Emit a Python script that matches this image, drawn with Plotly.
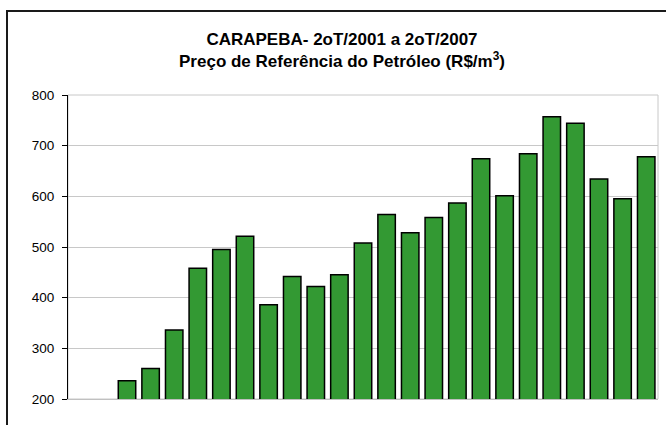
import plotly.graph_objects as go

quarters = ["2oT/2001", "3oT/2001", "4oT/2001",
            "1oT/2002", "2oT/2002", "3oT/2002", "4oT/2002",
            "1oT/2003", "2oT/2003", "3oT/2003", "4oT/2003",
            "1oT/2004", "2oT/2004", "3oT/2004", "4oT/2004",
            "1oT/2005", "2oT/2005", "3oT/2005", "4oT/2005",
            "1oT/2006", "2oT/2006", "3oT/2006", "4oT/2006",
            "1oT/2007", "2oT/2007"]
prices = [None, None, 236, 260, 336, 458, 495, 521, 386, 442, 422, 445,
          508, 564, 528, 558, 587, 674, 601, 684, 757, 744, 634, 595, 678]

y_ticks = [200, 300, 400, 500, 600, 700, 800]

W, H = 666, 425
L, R, T, B = 68, 658, 95, 399

fig = go.Figure()
fig.add_trace(go.Bar(
    x=quarters, y=prices,
    marker=dict(color="#339933", line=dict(color="#000000", width=1.5)),
    hoverinfo="x+y",
))

def px2paper_x(px):
    return (px - L) / (R - L)

def px2paper_y(py):
    return (B - py) / (B - T)

fig.update_layout(
    width=W, height=H, autosize=False,
    margin=dict(l=L, r=W - R, t=T, b=H - B, pad=0),
    paper_bgcolor="white", plot_bgcolor="white",
    showlegend=False,
    bargap=0.26,
    font=dict(family="Liberation Sans, Arial, sans-serif", color="#000000"),
    title=dict(
        text="CARAPEBA- 2oT/2001 a 2oT/2007<br>Preço de Referência do Petróleo (R$/m<sup>3</sup>)",
        x=342 / W, xanchor="center", xref="container",
        y=1 - 45 / H, yanchor="top", yref="container",
        font=dict(size=17, family="Liberation Sans, Arial, sans-serif", color="#000000", weight="bold"),
    ),
    xaxis=dict(
        type="category", categoryorder="array", categoryarray=quarters,
        showticklabels=False, ticks="", showgrid=False,
        showline=True, linecolor="#c0c0c0", linewidth=1,
        zeroline=False, fixedrange=True,
    ),
    yaxis=dict(
        range=[200, 800], tickvals=y_ticks,
        ticks="outside", ticklen=5, tickcolor="#000000", tickwidth=1,
        showline=True, linecolor="#000000", linewidth=1,
        showgrid=True, gridcolor="#c8c8c8", gridwidth=1,
        zeroline=False,
        tickfont=dict(size=13.5, family="Liberation Sans, Arial, sans-serif", color="#000000"),
        ticklabelstandoff=5,
    ),
    shapes=[
        dict(type="rect", xref="paper", yref="paper", layer="below",
             x0=0, x1=1, y0=0, y1=1,
             line=dict(color="#c8c8c8", width=1)),
        dict(type="rect", xref="paper", yref="paper", layer="above",
             x0=px2paper_x(7), x1=px2paper_x(690),
             y0=px2paper_y(440), y1=px2paper_y(11),
             line=dict(color="#1a1a1a", width=2)),
    ],
)

fig.write_html("out.html", config={"displayModeBar": False},
               post_script="document.body.style.margin='0px';")
